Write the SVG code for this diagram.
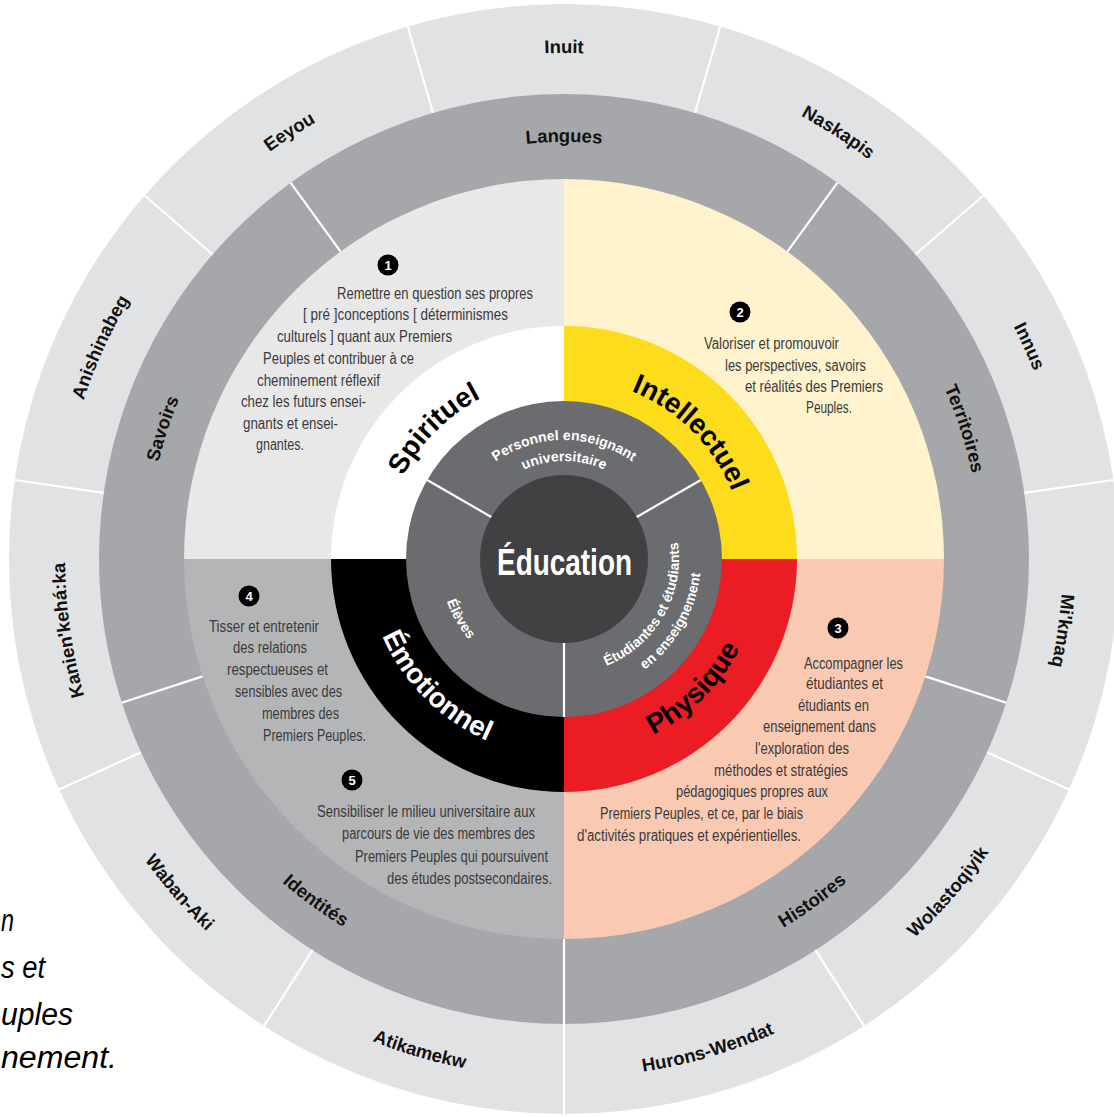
<svg xmlns="http://www.w3.org/2000/svg" width="1114" height="1117" viewBox="0 0 1114 1117">
<style>
.lbl{font-family:'Liberation Sans',Arial,sans-serif;font-weight:bold;font-size:18.5px;fill:#111;text-anchor:middle}
.big{font-family:'Liberation Sans',Arial,sans-serif;font-weight:bold;font-size:28px;text-anchor:middle}
.mid{font-family:'Liberation Sans',Arial,sans-serif;font-weight:bold;font-size:14px;fill:#fff;text-anchor:middle}
.body{font-family:'Liberation Sans Narrow','Liberation Sans',Arial,sans-serif;font-size:16px;fill:#3a3a3c}
.num{font-family:'Liberation Sans',Arial,sans-serif;font-weight:bold;font-size:13px;fill:#fff;text-anchor:middle}
.sep{stroke:#fff;stroke-width:2.2;fill:none}
.cap{font-family:'Liberation Sans',Arial,sans-serif;font-style:italic;font-size:31px;fill:#000}
</style>
<defs>
<path id="p-inuit" d="M58,559 A506,506 0 0 1 1070,559"/>
<path id="p-naskapis" d="M138.3,285.5 A506,506 0 0 1 989.7,832.5"/>
<path id="p-innus" d="M353.8,98.7 A506,506 0 0 1 774.2,1019.3"/>
<path id="p-mikmaq" d="M636,58.2 A506,506 0 0 1 492,1059.8"/>
<path id="p-kanien" d="M636,1059.8 A506,506 0 0 1 492,58.2"/>
<path id="p-anishinabeg" d="M353.8,1019.3 A506,506 0 0 1 774.2,98.7"/>
<path id="p-eeyou" d="M138.3,832.5 A506,506 0 0 1 989.7,285.5"/>
<path id="p-wolastoqiyik" d="M224.1,951.2 A519,519 0 0 0 903.9,166.8"/>
<path id="p-hurons" d="M66,705.2 A519,519 0 0 0 1062,412.8"/>
<path id="p-atikamekw" d="M66,412.8 A519,519 0 0 0 1062,705.2"/>
<path id="p-waban" d="M224.1,166.8 A519,519 0 0 0 903.9,951.2"/>
<path id="p-langues" d="M147,559 A417,417 0 0 1 981,559"/>
<path id="p-territoires" d="M435.1,162.4 A417,417 0 0 1 692.9,955.6"/>
<path id="p-savoirs" d="M435.1,955.6 A417,417 0 0 1 692.9,162.4"/>
<path id="p-histoires" d="M216.9,811.2 A429,429 0 0 0 911.1,306.8"/>
<path id="p-identites" d="M216.9,306.8 A429,429 0 0 0 911.1,811.2"/>
<path id="p-intellectuel" d="M436,431 A181,181 0 0 1 692,687"/>
<path id="p-spirituel" d="M436,687 A181,181 0 0 1 692,431"/>
<path id="p-physique" d="M421.9,701.1 A201,201 0 0 0 706.1,416.9"/>
<path id="p-emotionnel" d="M421.9,416.9 A201,201 0 0 0 706.1,701.1"/>
<path id="p-pers1" d="M445,559 A119,119 0 0 1 683,559"/>
<path id="p-pers2" d="M466,559 A98,98 0 0 1 662,559"/>
<path id="p-etu1" d="M506.5,658.6 A115,115 0 0 0 621.5,459.4"/>
<path id="p-etu2" d="M494,680.2 A140,140 0 0 0 634,437.8"/>
<path id="p-eleves" d="M500,448.2 A128,128 0 0 0 628,669.8"/>
</defs>

<g id="ring-nations">
<circle cx="564" cy="559" r="555" fill="#e1e2e3"/>
</g>
<g id="ring-themes">
<circle cx="564" cy="559" r="465" fill="#a6a7aa"/>
</g>
<g id="quadrants">
<path d="M564,559 L564,179 A380,380 0 0 0 184,559 Z" fill="#e8e8e9"/>
<path d="M564,559 L564,179 A380,380 0 0 1 944,559 Z" fill="#fef3cd"/>
<path d="M564,559 L944,559 A380,380 0 0 1 564,939 Z" fill="#f9c9b2"/>
<path d="M564,559 L564,939 A380,380 0 0 1 184,559 Z" fill="#b4b5b7"/>
</g>
<g id="ring-dimensions">
<path d="M564,559 L564,326 A233,233 0 0 0 331,559 Z" fill="#ffffff"/>
<path d="M564,559 L564,326 A233,233 0 0 1 797,559 Z" fill="#fddc1c"/>
<path d="M564,559 L797,559 A233,233 0 0 1 564,792 Z" fill="#ec1c24"/>
<path d="M564,559 L564,792 A233,233 0 0 1 331,559 Z" fill="#000000"/>
</g>
<g id="ring-actors">
<circle cx="564" cy="559" r="158" fill="#6b6c6f"/>
</g>
<g id="center">
<circle cx="564" cy="559" r="84" fill="#414042"/>
<text x="497" y="575" textLength="135" lengthAdjust="spacingAndGlyphs" style="font-family:'Liberation Sans',Arial,sans-serif;font-weight:bold;font-size:37px;fill:#fff">Éducation</text>
</g>

<g id="separators">
<line class="sep" x1="695" y1="112.8" x2="720.3" y2="26.5"/>
<line class="sep" x1="915.4" y1="254.5" x2="983.4" y2="195.5"/>
<line class="sep" x1="1024.3" y1="492.8" x2="1113.3" y2="480"/>
<line class="sep" x1="987" y1="752.2" x2="1068.8" y2="789.5"/>
<line class="sep" x1="815.4" y1="950.2" x2="864" y2="1025.9"/>
<line class="sep" x1="564" y1="1024" x2="564" y2="1114"/>
<line class="sep" x1="312.6" y1="950.2" x2="264" y2="1025.9"/>
<line class="sep" x1="141" y1="752.2" x2="59.2" y2="789.5"/>
<line class="sep" x1="103.7" y1="492.8" x2="14.7" y2="480"/>
<line class="sep" x1="212.6" y1="254.5" x2="144.6" y2="195.5"/>
<line class="sep" x1="433" y1="112.8" x2="407.7" y2="26.5"/>
<line class="sep" x1="787.4" y1="251.6" x2="837.3" y2="182.8"/>
<line class="sep" x1="925.4" y1="676.4" x2="1006.3" y2="702.7"/>
<line class="sep" x1="564" y1="939" x2="564" y2="1024"/>
<line class="sep" x1="202.6" y1="676.4" x2="121.7" y2="702.7"/>
<line class="sep" x1="340.6" y1="251.6" x2="290.7" y2="182.8"/>
<line class="sep" x1="636.7" y1="517" x2="700.8" y2="480"/>
<line class="sep" x1="564" y1="643" x2="564" y2="717"/>
<line class="sep" x1="491.3" y1="517" x2="427.2" y2="480"/>
</g>

<g id="nations-labels">
<text class="lbl"><textPath href="#p-inuit" startOffset="50%">Inuit</textPath></text>
<text class="lbl"><textPath href="#p-naskapis" startOffset="50%">Naskapis</textPath></text>
<text class="lbl"><textPath href="#p-innus" startOffset="50%">Innus</textPath></text>
<text class="lbl"><textPath href="#p-mikmaq" startOffset="50%">Mi'kmaq</textPath></text>
<text class="lbl"><textPath href="#p-wolastoqiyik" startOffset="50%">Wolastoqiyik</textPath></text>
<text class="lbl"><textPath href="#p-hurons" startOffset="50%">Hurons-Wendat</textPath></text>
<text class="lbl"><textPath href="#p-atikamekw" startOffset="50%">Atikamekw</textPath></text>
<text class="lbl"><textPath href="#p-waban" startOffset="50%">Waban-Aki</textPath></text>
<text class="lbl"><textPath href="#p-kanien" startOffset="50%">Kanien'kehá:ka</textPath></text>
<text class="lbl"><textPath href="#p-anishinabeg" startOffset="50%">Anishinabeg</textPath></text>
<text class="lbl"><textPath href="#p-eeyou" startOffset="50%">Eeyou</textPath></text>
</g>
<g id="themes-labels">
<text class="lbl"><textPath href="#p-langues" startOffset="50%">Langues</textPath></text>
<text class="lbl"><textPath href="#p-territoires" startOffset="50%">Territoires</textPath></text>
<text class="lbl"><textPath href="#p-histoires" startOffset="50%">Histoires</textPath></text>
<text class="lbl"><textPath href="#p-identites" startOffset="50%">Identités</textPath></text>
<text class="lbl"><textPath href="#p-savoirs" startOffset="50%">Savoirs</textPath></text>
</g>
<g id="dimension-labels">
<text class="big" fill="#000"><textPath href="#p-spirituel" startOffset="50%">Spirituel</textPath></text>
<text class="big" fill="#000"><textPath href="#p-intellectuel" startOffset="50%">Intellectuel</textPath></text>
<text class="big" fill="#000"><textPath href="#p-physique" startOffset="50%">Physique</textPath></text>
<text class="big" fill="#fff"><textPath href="#p-emotionnel" startOffset="50%">Émotionnel</textPath></text>
</g>
<g id="actor-labels">
<text class="mid"><textPath href="#p-pers1" startOffset="50%">Personnel enseignant</textPath></text>
<text class="mid"><textPath href="#p-pers2" startOffset="50%">universitaire</textPath></text>
<text class="mid"><textPath href="#p-etu1" startOffset="50%">Étudiantes et étudiants</textPath></text>
<text class="mid"><textPath href="#p-etu2" startOffset="50%">en enseignement</textPath></text>
<text class="mid"><textPath href="#p-eleves" startOffset="50%">Élèves</textPath></text>
</g>

<g id="goal-1">
<circle cx="388" cy="265" r="10.5" fill="#000"/>
<text class="num" x="388" y="269.5">1</text>
<text class="body" x="337" y="299" textLength="196" lengthAdjust="spacingAndGlyphs">Remettre en question ses propres</text>
<text class="body" x="303" y="320" textLength="205" lengthAdjust="spacingAndGlyphs">[ pré ]conceptions [ déterminismes</text>
<text class="body" x="277" y="342" textLength="175" lengthAdjust="spacingAndGlyphs">culturels ] quant aux Premiers</text>
<text class="body" x="263" y="364" textLength="151" lengthAdjust="spacingAndGlyphs">Peuples et contribuer à ce</text>
<text class="body" x="257" y="386" textLength="123" lengthAdjust="spacingAndGlyphs">cheminement réflexif</text>
<text class="body" x="241" y="407" textLength="125" lengthAdjust="spacingAndGlyphs">chez les futurs ensei-</text>
<text class="body" x="243" y="429" textLength="95" lengthAdjust="spacingAndGlyphs">gnants et ensei-</text>
<text class="body" x="256" y="450" textLength="48" lengthAdjust="spacingAndGlyphs">gnantes.</text>
</g>
<g id="goal-2">
<circle cx="740" cy="312" r="10.5" fill="#000"/>
<text class="num" x="740" y="316.5">2</text>
<text class="body" x="704" y="349" textLength="135" lengthAdjust="spacingAndGlyphs">Valoriser et promouvoir</text>
<text class="body" x="725" y="371" textLength="141" lengthAdjust="spacingAndGlyphs">les perspectives, savoirs</text>
<text class="body" x="745" y="392" textLength="138" lengthAdjust="spacingAndGlyphs">et réalités des Premiers</text>
<text class="body" x="806" y="413" textLength="46" lengthAdjust="spacingAndGlyphs">Peuples.</text>
</g>
<g id="goal-3">
<circle cx="838" cy="628" r="10.5" fill="#000"/>
<text class="num" x="838" y="632.5">3</text>
<text class="body" x="804" y="669" textLength="99" lengthAdjust="spacingAndGlyphs">Accompagner les</text>
<text class="body" x="806" y="689" textLength="77" lengthAdjust="spacingAndGlyphs">étudiantes et</text>
<text class="body" x="798" y="711" textLength="71" lengthAdjust="spacingAndGlyphs">étudiants en</text>
<text class="body" x="763" y="732" textLength="113" lengthAdjust="spacingAndGlyphs">enseignement dans</text>
<text class="body" x="755" y="754" textLength="94" lengthAdjust="spacingAndGlyphs">l'exploration des</text>
<text class="body" x="714" y="776" textLength="134" lengthAdjust="spacingAndGlyphs">méthodes et stratégies</text>
<text class="body" x="676" y="797" textLength="152" lengthAdjust="spacingAndGlyphs">pédagogiques propres aux</text>
<text class="body" x="600" y="819" textLength="203" lengthAdjust="spacingAndGlyphs">Premiers Peuples, et ce, par le biais</text>
<text class="body" x="577" y="841" textLength="224" lengthAdjust="spacingAndGlyphs">d'activités pratiques et expérientielles.</text>
</g>
<g id="goal-4">
<circle cx="249" cy="596" r="10.5" fill="#000"/>
<text class="num" x="249" y="600.5">4</text>
<text class="body" x="209" y="632" textLength="110" lengthAdjust="spacingAndGlyphs">Tisser et entretenir</text>
<text class="body" x="233" y="653" textLength="74" lengthAdjust="spacingAndGlyphs">des relations</text>
<text class="body" x="227" y="675" textLength="101" lengthAdjust="spacingAndGlyphs">respectueuses et</text>
<text class="body" x="235" y="697" textLength="107" lengthAdjust="spacingAndGlyphs">sensibles avec des</text>
<text class="body" x="262" y="719" textLength="77" lengthAdjust="spacingAndGlyphs">membres des</text>
<text class="body" x="263" y="741" textLength="103" lengthAdjust="spacingAndGlyphs">Premiers Peuples.</text>
</g>
<g id="goal-5">
<circle cx="352" cy="780" r="10.5" fill="#000"/>
<text class="num" x="352" y="784.5">5</text>
<text class="body" x="317" y="817" textLength="218" lengthAdjust="spacingAndGlyphs">Sensibiliser le milieu universitaire aux</text>
<text class="body" x="342" y="839" textLength="193" lengthAdjust="spacingAndGlyphs">parcours de vie des membres des</text>
<text class="body" x="355" y="862" textLength="193" lengthAdjust="spacingAndGlyphs">Premiers Peuples qui poursuivent</text>
<text class="body" x="387" y="884" textLength="165" lengthAdjust="spacingAndGlyphs">des études postsecondaires.</text>
</g>
<g id="caption">
<text class="cap" x="1" y="931" textLength="13" lengthAdjust="spacingAndGlyphs">n</text>
<text class="cap" x="1" y="978" textLength="44" lengthAdjust="spacingAndGlyphs">s et</text>
<text class="cap" x="1" y="1025" textLength="72" lengthAdjust="spacingAndGlyphs">uples</text>
<text class="cap" x="1" y="1068" textLength="116" lengthAdjust="spacingAndGlyphs">nement.</text>
</g>
</svg>
